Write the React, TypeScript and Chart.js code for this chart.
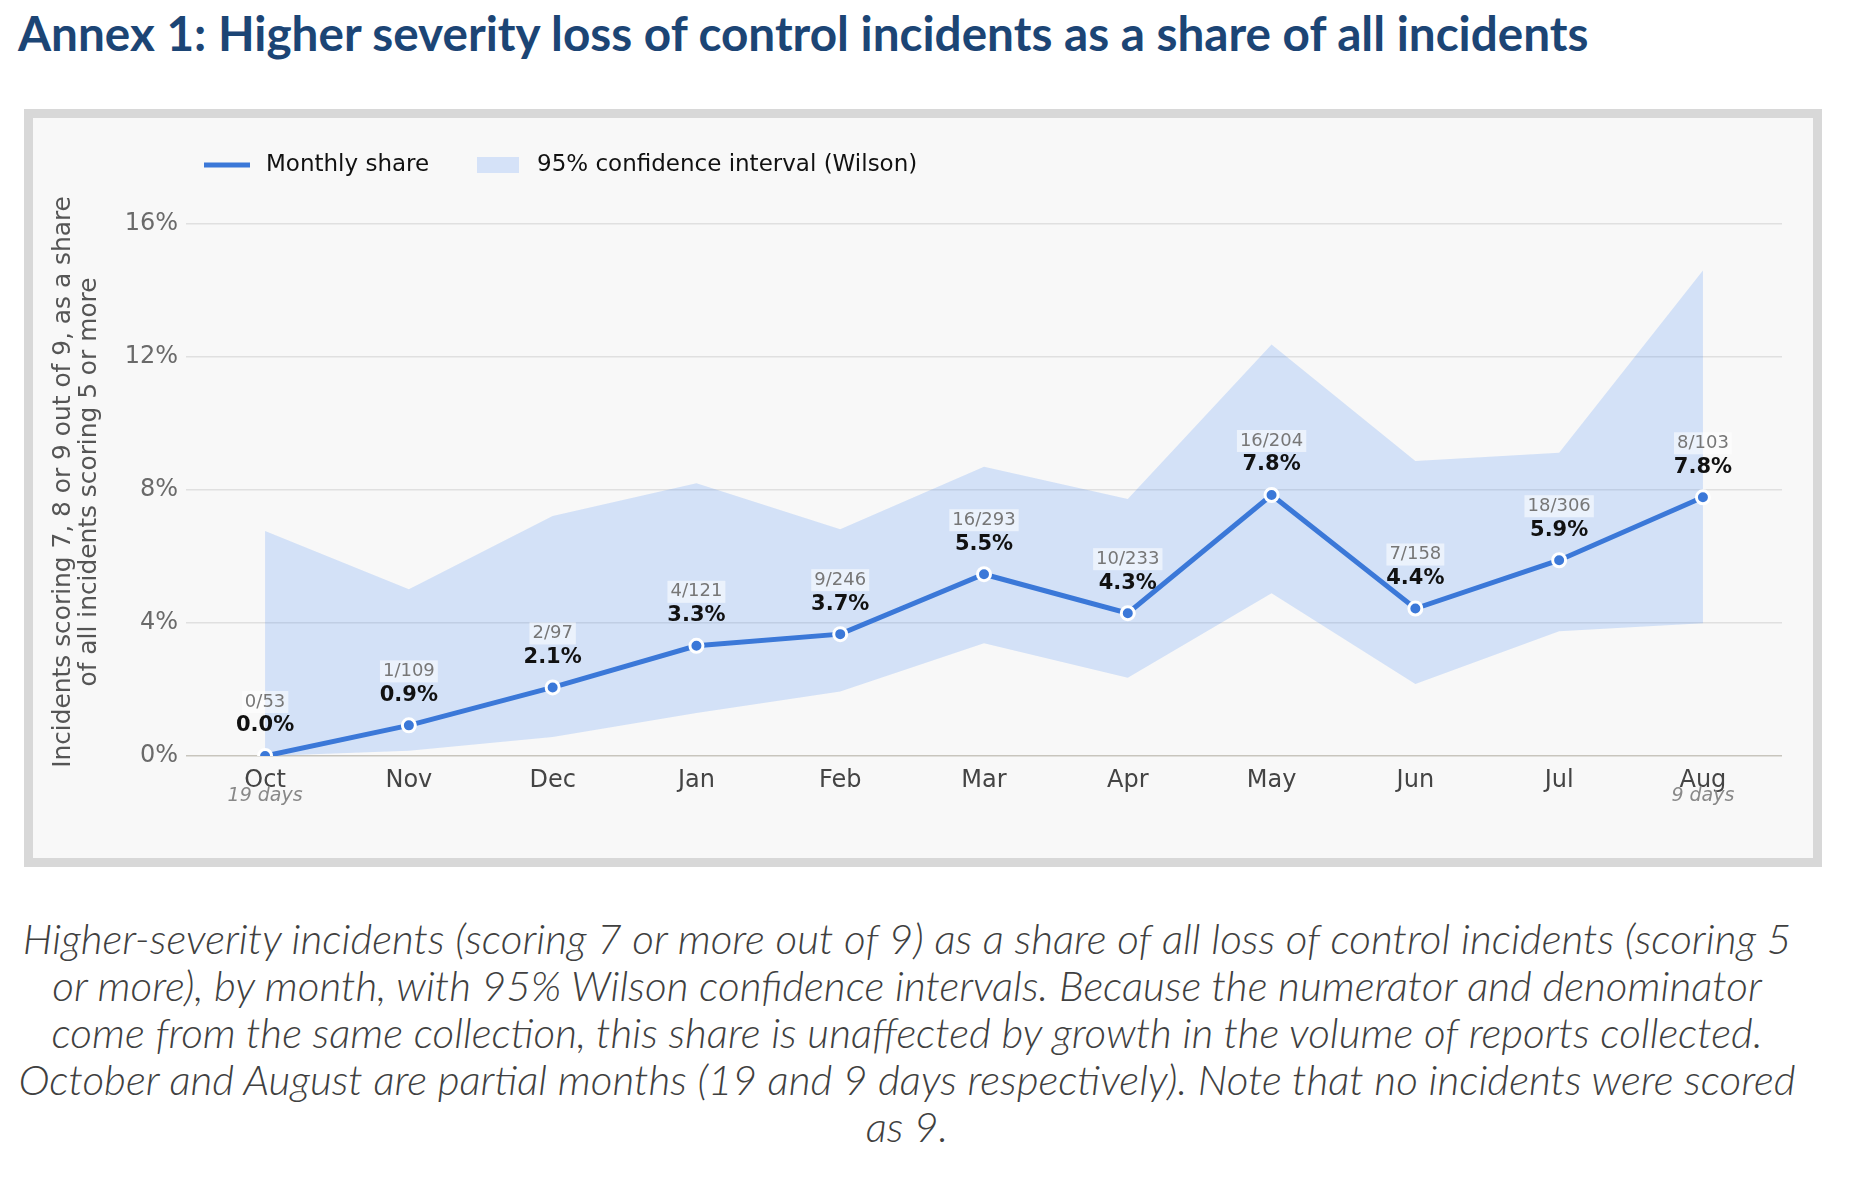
import React, { useEffect, useRef } from 'react';
import { Chart, registerables } from 'chart.js';

Chart.register(...registerables);

const months = ['Oct', 'Nov', 'Dec', 'Jan', 'Feb', 'Mar', 'Apr', 'May', 'Jun', 'Jul', 'Aug'];
const counts = ['0/53', '1/109', '2/97', '4/121', '9/246', '16/293', '10/233', '16/204', '7/158', '18/306', '8/103'];
const share = [0, 0.92, 2.06, 3.31, 3.66, 5.46, 4.29, 7.84, 4.43, 5.88, 7.77];
const ciLow = [0, 0.16, 0.57, 1.29, 1.94, 3.39, 2.35, 4.89, 2.16, 3.75, 3.99];
const ciHigh = [6.76, 5.01, 7.21, 8.19, 6.81, 8.69, 7.72, 12.36, 8.86, 9.11, 14.58];
const notes = ['19 days', '', '', '', '', '', '', '', '', '', '9 days'];
const yTicks = [0, 4, 8, 12, 16];

const TITLE = 'Annex 1: Higher severity loss of control incidents as a share of all incidents';
const YTITLE = ['Incidents scoring 7, 8 or 9 out of 9, as a share', 'of all incidents scoring 5 or more'];
const CAPTION = [
  'Higher-severity incidents (scoring 7 or more out of 9) as a share of all loss of control incidents (scoring 5',
  'or more), by month, with 95% Wilson confidence intervals. Because the numerator and denominator',
  'come from the same collection, this share is unaffected by growth in the volume of reports collected.',
  'October and August are partial months (19 and 9 days respectively). Note that no incidents were scored',
  'as 9.',
];

function fitSize(text: string, font: (s: number) => string, target: number): number {
  const c = document.createElement('canvas').getContext('2d')!;
  c.font = font(100);
  const w = c.measureText(text).width;
  return (100 * target) / w;
}

const titleFont = (s: number) => `bold ${s}px Lato`;
const capFont = (s: number) => `italic 300 ${s}px Lato`;
const yFont = (s: number) => `${s}px "DejaVu Sans"`;

export default function App() {
  const ref = useRef<HTMLCanvasElement>(null);
  const titleSize = fitSize(TITLE, titleFont, 1575);
  const capSize = fitSize(CAPTION[0], capFont, 1771);

  useEffect(() => {
    const yTitleSize = fitSize(YTITLE[0], yFont, 572);
    const overlay = {
      id: 'overlay',
      afterDatasetsDraw(chart: any) {
        const ctx = chart.ctx as CanvasRenderingContext2D;
        const meta = chart.getDatasetMeta(0);
        const area = chart.chartArea;
        ctx.save();
        ctx.textAlign = 'center';
        ctx.textBaseline = 'middle';
        meta.data.forEach((pt: any, i: number) => {
          const x = pt.x;
          const y = pt.y;
          ctx.font = '18px "DejaVu Sans"';
          const w = ctx.measureText(counts[i]).width;
          ctx.fillStyle = 'rgba(255,255,255,0.55)';
          ctx.fillRect(x - w / 2 - 3, y - 54 - 11, w + 6, 22);
          ctx.fillStyle = '#777777';
          ctx.fillText(counts[i], x, y - 54);
          ctx.font = 'bold 21px "DejaVu Sans"';
          ctx.fillStyle = '#111111';
          ctx.fillText(share[i].toFixed(1) + '%', x, y - 30);
          if (notes[i]) {
            ctx.font = 'italic 19px "DejaVu Sans"';
            ctx.fillStyle = '#888888';
            ctx.fillText(notes[i], x, area.bottom + 40);
          }
        });
        // legend
        ctx.strokeStyle = '#3b78d8';
        ctx.lineWidth = 5;
        ctx.beginPath();
        ctx.moveTo(171, 47);
        ctx.lineTo(217, 47);
        ctx.stroke();
        ctx.fillStyle = '#d5e2f8';
        ctx.fillRect(444, 39, 42, 16);
        ctx.font = '23px "DejaVu Sans"';
        ctx.fillStyle = '#111111';
        ctx.textAlign = 'left';
        ctx.fillText('Monthly share', 233, 47);
        ctx.fillText('95% confidence interval (Wilson)', 504, 47);
        // y title
        ctx.font = yFont(yTitleSize);
        ctx.fillStyle = '#555555';
        ctx.textAlign = 'center';
        [31, 57].forEach((lx, k) => {
          ctx.save();
          ctx.translate(lx, 364);
          ctx.rotate(-Math.PI / 2);
          ctx.fillText(YTITLE[k], 0, 0);
          ctx.restore();
        });
        ctx.restore();
      },
    };

    const chart = new Chart(ref.current!, {
      type: 'line',
      data: {
        datasets: [
          {
            label: 'Monthly share',
            data: share.map((v, i) => ({ x: i, y: v })),
            borderColor: '#3b78d8',
            backgroundColor: '#3b78d8',
            borderWidth: 5,
            pointRadius: 6.5,
            pointBackgroundColor: '#3b78d8',
            pointBorderColor: '#ffffff',
            pointBorderWidth: 3,
            fill: false,
            tension: 0,
            clip: 0,
            order: 0,
          },
          {
            label: 'low',
            data: ciLow.map((v, i) => ({ x: i, y: v })),
            borderWidth: 0,
            pointRadius: 0,
            fill: false,
            backgroundColor: 'transparent',
            borderColor: 'transparent',
            order: 1,
          },
          {
            label: '95% confidence interval (Wilson)',
            data: ciHigh.map((v, i) => ({ x: i, y: v })),
            borderWidth: 0,
            pointRadius: 0,
            fill: '-1',
            backgroundColor: 'rgba(66,133,244,0.2)',
            borderColor: 'transparent',
            order: 2,
          },
        ],
      },
      options: {
        animation: false,
        responsive: false,
        maintainAspectRatio: false,
        devicePixelRatio: 1,
        layout: { padding: { left: 0, right: 31, top: 72, bottom: 0 } },
        plugins: { legend: { display: false }, tooltip: { enabled: false } },
        scales: {
          x: {
            type: 'linear',
            min: -0.55,
            max: 10.55,
            afterBuildTicks: (a: any) => {
              a.ticks = months.map((_, i) => ({ value: i }));
            },
            afterFit: (s: any) => {
              s.height = 102;
            },
            ticks: {
              callback: (v: any) => months[v] ?? '',
              font: { family: 'DejaVu Sans', size: 24 },
              color: '#444444',
              padding: 10,
              maxRotation: 0,
              autoSkip: false,
            },
            grid: { display: false, drawTicks: false },
            border: { display: false },
          },
          y: {
            min: 0,
            max: 17,
            afterBuildTicks: (a: any) => {
              a.ticks = yTicks.map((v) => ({ value: v }));
            },
            afterFit: (s: any) => {
              s.width = 153;
            },
            ticks: {
              callback: (v: any) => v + '%',
              font: { family: 'DejaVu Sans', size: 24 },
              color: '#6a6a6a',
              padding: 8,
            },
            grid: {
              color: (c: any) => (c.tick && c.tick.value === 0 ? '#c8c5bd' : '#e0e0e0'),
              lineWidth: 1.5,
              drawTicks: false,
            },
            border: { display: false },
          },
        },
      },
      plugins: [overlay],
    } as any);
    return () => chart.destroy();
  }, []);

  return (
    <div style={{ position: 'absolute', left: 0, top: 0, width: 1852, height: 1177, background: '#ffffff' }}>
      <div
        style={{
          position: 'absolute',
          left: 18,
          top: 4,
          lineHeight: '60px',
          whiteSpace: 'nowrap',
          font: titleFont(titleSize),
          color: '#1c4575',
        }}
      >
        {TITLE}
      </div>
      <div
        style={{
          position: 'absolute',
          left: 24,
          top: 109,
          width: 1798,
          height: 758,
          boxSizing: 'border-box',
          border: '9px solid #d8d8d8',
          background: '#f8f8f8',
        }}
      />
      <canvas
        ref={ref}
        width={1780}
        height={740}
        style={{ position: 'absolute', left: 33, top: 118, width: 1780, height: 740 }}
      />
      <div
        style={{
          position: 'absolute',
          left: 0,
          top: 914,
          width: 1814,
          textAlign: 'center',
          font: capFont(capSize),
          lineHeight: '47px',
          color: '#404040',
          whiteSpace: 'nowrap',
        }}
      >
        {CAPTION.map((l, i) => (
          <div key={i}>{l}</div>
        ))}
      </div>
    </div>
  );
}
